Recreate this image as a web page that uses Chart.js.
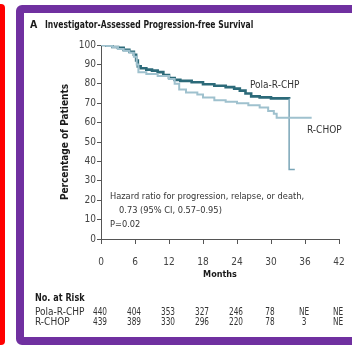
<!DOCTYPE html>
<html>
<head>
<meta charset="utf-8">
<script src="https://cdn.jsdelivr.net/npm/chart.js@4.4.1/dist/chart.umd.min.js"></script>
<style>
  html, body { margin: 0; padding: 0; background: #fff; width: 352px; height: 351px; overflow: hidden; }
  .redbar { position: absolute; left: 0; top: 4px; width: 5px; height: 341px; background: #ff0000; border-radius: 0 4px 4px 0; }
  .frame { position: absolute; left: 16px; top: 5px; width: 344px; height: 340px; box-sizing: border-box;
           border: 8px solid #7030a0; border-radius: 6px; background: #fff; }
  #wrap { position: absolute; left: 24px; top: 13px; width: 320px; height: 324px; }
</style>
</head>
<body>
<div class="redbar"></div>
<div class="frame"></div>
<div id="wrap"><canvas id="pfsChart" width="320" height="324"></canvas></div>
<script>
// Kaplan-Meier step points: [month, percent]
const polaMonths = [0, 1, 2, 3, 4, 5, 5.8, 6.2, 6.5, 7, 8, 9, 10, 11, 12, 13, 14, 16, 18, 20, 22, 23.5, 24.5, 25.5, 26.5, 28, 30, 33.2, 33.2, 34.2];
const polaValues = [100, 99.6, 99, 98.5, 97.5, 96.5, 95, 92, 89, 88, 87.3, 86.8, 86, 84.5, 83, 82, 81.5, 80.8, 79.8, 79, 78.3, 77.5, 76.5, 75, 73.5, 73, 72.5, 72.3, 35.8, 35.8];

const rchopMonths = [0, 1, 2, 3, 4, 5, 5.8, 6.3, 6.6, 8, 10, 12, 13, 13.8, 15, 17, 18, 20, 22, 24, 26, 28, 29.5, 30.5, 31, 37];
const rchopValues = [100, 99.5, 99, 98, 97, 96, 94, 90, 86, 85, 84, 82.5, 80, 77, 75.5, 74.5, 73, 71.5, 70.8, 70, 69, 67.8, 66, 64.5, 62.5, 62];

const xTicks = [0, 6, 12, 18, 24, 30, 36, 42];
const riskPola = ["440", "404", "353", "327", "246", "78", "NE", "NE"];
const riskRchop = ["439", "389", "330", "296", "220", "78", "3", "NE"];

const FONT = "'Liberation Sans Narrow', 'DejaVu Sans Condensed', 'Liberation Sans', sans-serif";

function toPoints(xs, ys) {
    return xs.map((m, i) => ({ x: m, y: ys[i] }));
}

// text squeezed horizontally a little more than the face allows
function squeezed(ctx, text, x, y, sx, align) {
    ctx.save();
    ctx.textAlign = align || "left";
    ctx.translate(x, y);
    ctx.scale(sx, 1);
    ctx.fillText(text, 0, 0);
    ctx.restore();
}

// text drawn on top of the plot: header, curve labels, hazard ratio and risk table
const overlay = {
    id: "overlay",
    afterDraw(chart) {
        const ctx = chart.ctx;
        const x = chart.scales.x;
        ctx.save();
        ctx.textBaseline = "middle";
        ctx.textAlign = "left";

        ctx.fillStyle = "#1a1a1a";
        ctx.font = "bold 10.5px " + FONT;
        ctx.fillText("A", 6, 12);
        ctx.font = "bold 10px " + FONT;
        squeezed(ctx, "Investigator-Assessed Progression-free Survival", 21, 12, 0.85);

        ctx.fillStyle = "#333";
        ctx.font = "10px " + FONT;
        ctx.fillText("Pola-R-CHP", 226, 72);
        ctx.fillText("R-CHOP", 283, 117);

        ctx.font = "9.2px " + FONT;
        ctx.fillText("Hazard ratio for progression, relapse, or death,", 86, 184);
        ctx.fillText("0.73 (95% CI, 0.57\u20130.95)", 95, 198);
        ctx.fillText("P=0.02", 86, 212);

        ctx.fillStyle = "#1a1a1a";
        ctx.font = "bold 10px " + FONT;
        squeezed(ctx, "No. at Risk", 11, 285, 0.9);
        ctx.fillStyle = "#333";
        ctx.font = "10px " + FONT;
        ctx.fillText("Pola-R-CHP", 11, 299);
        ctx.fillText("R-CHOP", 11, 309);
        xTicks.forEach((m, i) => {
            const px = x.getPixelForValue(m);
            squeezed(ctx, riskPola[i], px - 1, 299, 0.82, "center");
            squeezed(ctx, riskRchop[i], px - 1, 309, 0.82, "center");
        });
        ctx.restore();
    }
};

new Chart(document.getElementById("pfsChart"), {
    type: "line",
    data: {
        datasets: [{
            label: "R-CHOP",
            data: toPoints(rchopMonths, rchopValues),
            borderColor: "#9fc1ce",
            borderWidth: 2,
            stepped: true,
            pointRadius: 0
        }, {
            label: "Pola-R-CHP",
            data: toPoints(polaMonths, polaValues),
            borderColor: "#2c6a79",
            borderWidth: 2.6,
            stepped: true,
            pointRadius: 0,
            segment: {
                borderColor: c => (c.p1.parsed.y < 50 ? "#7aa5b7" : undefined),
                borderWidth: c => (c.p1.parsed.y < 50 ? 1.5 : undefined)
            }
        }]
    },
    options: {
        responsive: false,
        animation: false,
        layout: { padding: { top: 32, right: 5, left: 0, bottom: 0 } },
        plugins: { legend: { display: false }, tooltip: { enabled: false } },
        scales: {
            x: {
                type: "linear",
                min: 0,
                max: 42,
                afterBuildTicks: s => { s.ticks = xTicks.map(v => ({ value: v })); },
                afterFit: s => { s.height = 98; s.paddingLeft = 0; s.paddingRight = 0; },
                grid: { drawOnChartArea: false, drawTicks: true, tickLength: 5, color: "#555" },
                border: { display: true, color: "#555", width: 1 },
                ticks: { color: "#444", font: { family: FONT, size: 10 }, padding: 12, maxRotation: 0 },
                title: { display: true, text: "Months", color: "#1a1a1a",
                         font: { family: FONT, size: 9, weight: "bold" }, padding: { top: 0, bottom: 57 } }
            },
            y: {
                min: 0,
                max: 100,
                afterFit: s => { s.width = 77; },
                grid: { drawOnChartArea: false, drawTicks: true, tickLength: 4, color: "#555" },
                border: { display: true, color: "#555", width: 1 },
                ticks: { stepSize: 10, color: "#444", font: { family: FONT, size: 10 }, padding: 1 },
                title: { display: true, text: "Percentage of Patients", color: "#1a1a1a",
                         font: { family: FONT, size: 10, weight: "bold" }, padding: { top: 35, bottom: 0 } }
            }
        }
    },
    plugins: [overlay]
});
</script>
</body>
</html>
